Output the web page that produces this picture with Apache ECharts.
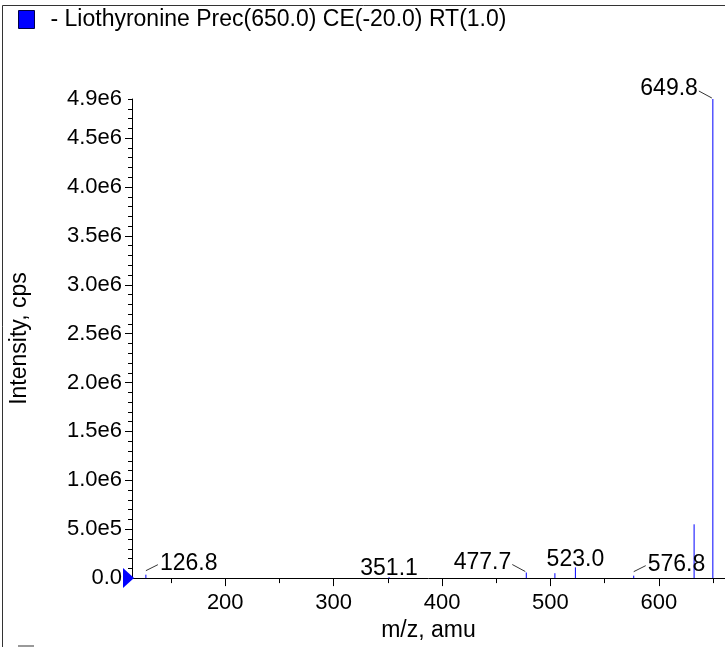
<!DOCTYPE html>
<html>
<head>
<meta charset="utf-8">
<script src="https://cdn.jsdelivr.net/npm/echarts@6/dist/echarts.min.js"></script>
<style>
html,body{margin:0;padding:0;background:#fff;}
#chart{width:725px;height:647px;}
</style>
</head>
<body>
<div id="chart"></div>
<script>
// ---- data ----
const seriesName = '- Liothyronine Prec(650.0) CE(-20.0) RT(1.0)';
const peakMz = [126.8, 351.1, 477.7, 504.1, 523.0, 576.8, 632.5, 649.8];
const peakIntensity = [3.5e4, 1.0e4, 5.7e4, 5.0e4, 1.1e5, 2.5e4, 5.5e5, 4.9e6];
const peakLabels = ['126.8', '351.1', '477.7', '', '523.0', '576.8', '', '649.8'];
const xMin = 114, xMax = 661;
const yMax = 4.9e6;
const xMajorTicks = [200, 300, 400, 500, 600];
const xMinorTicks = [150, 250, 350, 450, 550, 650];
const yLabelTicks = [0, 5e5, 1e6, 1.5e6, 2e6, 2.5e6, 3e6, 3.5e6, 4e6, 4.5e6, 4.9e6];
const yMajorTicks = [0, 5e5, 1e6, 1.5e6, 2e6, 2.5e6, 3e6, 3.5e6, 4e6, 4.5e6];

// ---- label placement (style only) ----
const labelPlace = {
  '126.8': {mode: 'left'},
  '351.1': {mode: 'center', dy: 8},
  '477.7': {mode: 'right'},
  '523.0': {mode: 'center', dy: 8},
  '576.8': {mode: 'left'},
  '649.8': {mode: 'right'}
};

const FONT = 'Liberation Sans, Arial, Helvetica, sans-serif';
const FS = 22;

function fmtY(v) {
  if (v === 0) return '0.0';
  const e = Math.floor(Math.log10(v) + 1e-9);
  return (v / Math.pow(10, e)).toFixed(1) + 'e' + e;
}

const peakData = peakMz.map((m, i) => [m, peakIntensity[i], peakLabels[i]]);

const chart = echarts.init(document.getElementById('chart'), null, {renderer: 'canvas'});
const option = {
  animation: false,
  backgroundColor: '#fff',
  textStyle: {fontFamily: FONT},
  legend: {
    left: 18, top: 8, padding: 0,
    itemWidth: 16, itemHeight: 18,
    data: [{name: seriesName, icon: 'rect', itemStyle: {color: '#0000ff', borderColor: '#000044', borderWidth: 1}}],
    textStyle: {fontFamily: FONT, fontSize: 23, color: '#000', padding: [2, 0, 0, 11]},
    selectedMode: false
  },
  grid: {left: 131, right: 0, top: 99, bottom: 62, containLabel: false},
  xAxis: [{
    type: 'value', min: xMin, max: xMax,
    name: 'm/z, amu', nameLocation: 'middle', nameGap: 37,
    nameTextStyle: {fontFamily: FONT, fontSize: 23, color: '#000'},
    axisLine: {show: true, lineStyle: {color: '#000', width: 1}},
    axisTick: {show: true, length: 8, lineStyle: {color: '#000'}, customValues: xMajorTicks},
    axisLabel: {show: true, color: '#000', fontFamily: FONT, fontSize: FS, margin: 14, customValues: xMajorTicks},
    splitLine: {show: false}
  }, {
    type: 'value', min: xMin, max: xMax, position: 'bottom',
    axisLine: {show: false},
    axisTick: {show: true, length: 5, lineStyle: {color: '#000'}, customValues: xMinorTicks},
    axisLabel: {show: false},
    splitLine: {show: false}
  }],
  yAxis: [{
    type: 'value', min: 0, max: yMax,
    name: 'Intensity, cps', nameLocation: 'middle', nameGap: 101, nameRotate: 90,
    nameTextStyle: {fontFamily: FONT, fontSize: 23, color: '#000'},
    axisLine: {show: true, lineStyle: {color: '#000', width: 1}},
    axisTick: {show: true, length: 7, lineStyle: {color: '#000'}, customValues: yMajorTicks},
    axisLabel: {show: true, color: '#000', fontFamily: FONT, fontSize: FS, margin: 10, padding: [6, 0, 0, 0],
      customValues: yLabelTicks, formatter: fmtY},
    splitLine: {show: false}
  }, {
    type: 'value', min: 0, max: yMax, interval: 1e5, position: 'left',
    axisLine: {show: false},
    axisTick: {show: true, length: 4, lineStyle: {color: '#000'}},
    axisLabel: {show: false},
    splitLine: {show: false}
  }],
  series: [{
    name: seriesName,
    type: 'custom',
    xAxisIndex: 0, yAxisIndex: 0,
    data: peakData,
    clip: false,
    itemStyle: {color: '#0000ff'},
    renderItem: function (params, api) {
      const x = api.value(0), y = api.value(1);
      const top = api.coord([x, y]);
      const base = api.coord([x, 0]);
      return {type: 'line', shape: {x1: top[0], y1: base[1], x2: top[0], y2: top[1]},
        style: {stroke: '#0000ff', lineWidth: 1}};
    }
  }, {
    name: 'labels',
    type: 'custom',
    xAxisIndex: 0, yAxisIndex: 0,
    data: peakData,
    clip: false,
    silent: true,
    renderItem: function (params, api) {
      const x = api.value(0), y = api.value(1);
      const lab = peakLabels[params.dataIndex];
      if (!lab) return null;
      const p = labelPlace[lab];
      const top = api.coord([x, y]);
      const px = top[0];
      const ty = top[1];
      const children = [];
      const ts = {fill: '#000', font: '23px ' + FONT, verticalAlign: 'middle'};
      if (p.mode === 'center') {
        children.push({type: 'text', x: px, y: ty - p.dy, style: Object.assign({text: lab, align: 'center'}, ts)});
      } else if (p.mode === 'right') {
        children.push({type: 'line', shape: {x1: px - 1, y1: ty - 1, x2: px - 14, y2: ty - 8}, style: {stroke: '#000', lineWidth: 0.8}});
        children.push({type: 'text', x: px - 15, y: ty - 10, style: Object.assign({text: lab, align: 'right'}, ts)});
      } else {
        children.push({type: 'line', shape: {x1: px + 0, y1: ty - 4, x2: px + 12, y2: ty - 10}, style: {stroke: '#000', lineWidth: 0.8}});
        children.push({type: 'text', x: px + 14, y: ty - 11, style: Object.assign({text: lab, align: 'left'}, ts)});
      }
      return {type: 'group', children: children};
    }
  }, {
    name: 'origin',
    type: 'custom',
    xAxisIndex: 0, yAxisIndex: 0,
    data: [[xMin, 0]],
    clip: false,
    silent: true,
    renderItem: function (params, api) {
      const c = api.coord([api.value(0), api.value(1)]);
      return {type: 'polygon', shape: {points: [[c[0] - 9, c[1] - 10], [c[0] + 2, c[1]], [c[0] - 9, c[1] + 10]]},
        style: {fill: '#0000ff'}};
    }
  }],
  graphic: [{
    type: 'polyline', silent: true,
    shape: {points: [[2.5, 647], [2.5, 5.5], [725, 5.5]]},
    style: {stroke: '#333', lineWidth: 1, fill: null}
  }, {
    type: 'rect', silent: true,
    shape: {x: 18, y: 645, width: 16, height: 2},
    style: {fill: '#999'}
  }]
};
chart.setOption(option);
</script>
</body>
</html>
